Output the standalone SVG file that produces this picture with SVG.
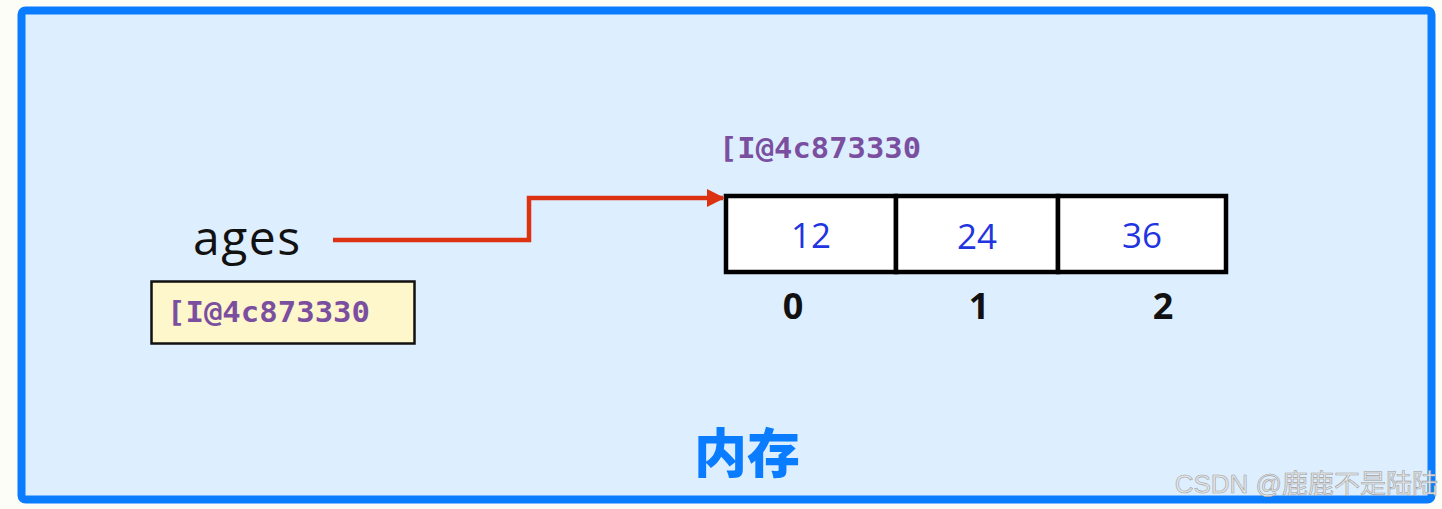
<svg xmlns="http://www.w3.org/2000/svg" width="1442" height="509" viewBox="0 0 1442 509">
<defs>
<style>
.addr{font-family:"DejaVu Sans Mono","Liberation Mono",monospace;font-weight:bold;font-size:28px;fill:#7b4fa0}
.val{font-family:"Open Sans","Noto Sans",sans-serif;font-size:35px;fill:#1f35e0;text-anchor:middle}
.idx{font-family:"Open Sans","Noto Sans",sans-serif;font-weight:bold;font-size:36px;fill:#111;text-anchor:middle}
.cell{fill:#ffffff;stroke:#000;stroke-width:4.5}
</style>
<marker id="arr" viewBox="0 0 10 10" refX="9" refY="5" markerWidth="4" markerHeight="4" orient="auto" markerUnits="strokeWidth">
<path d="M0,0 L10,5 L0,10 z" fill="#dc3212"/>
</marker>
</defs>
<rect x="0" y="0" width="1442" height="509" fill="#fdfdf8"/>
<g id="memory">
<rect x="21.5" y="10.5" width="1410" height="489" rx="4" fill="#ddeeff" stroke="#0a7cff" stroke-width="8"/>
<text x="747" y="473" text-anchor="middle" font-family="'Noto Sans CJK SC',sans-serif" font-weight="900" font-size="53" fill="#0a7cff">内存</text>
</g>
<g id="var-ages">
<text x="193" y="255" font-family="'Open Sans','Noto Sans',sans-serif" font-size="48" letter-spacing="1.5" fill="#111">ages</text>
<rect x="151.5" y="281.5" width="263" height="62" fill="#fff7cc" stroke="#111" stroke-width="2.5"/>
<text class="addr" x="167" y="322" textLength="203" lengthAdjust="spacingAndGlyphs">[I@4c873330</text>
</g>
<g id="array">
<text class="addr" x="719" y="158" textLength="202" lengthAdjust="spacingAndGlyphs">[I@4c873330</text>
<rect class="cell" x="726" y="196" width="170" height="76"/>
<rect class="cell" x="896" y="196" width="162" height="76"/>
<rect class="cell" x="1058" y="196" width="168" height="76"/>
<text class="val" x="811" y="248">12</text>
<text class="val" x="977" y="249">24</text>
<text class="val" x="1142" y="248">36</text>
<text class="idx" x="793" y="319">0</text>
<text class="idx" x="979" y="319">1</text>
<text class="idx" x="1163" y="319">2</text>
</g>
<g id="connectors">
<path d="M333,240 H529 V198 H723" fill="none" stroke="#dc3212" stroke-width="4.5" marker-end="url(#arr)"/>
</g>
<text x="1438" y="493" text-anchor="end" font-family="'Liberation Sans','Noto Sans CJK SC',sans-serif" font-size="26" fill="#e6e6e6" stroke="#a0a0a0" stroke-width="0.6">CSDN @鹿鹿不是陆陆</text>
</svg>
